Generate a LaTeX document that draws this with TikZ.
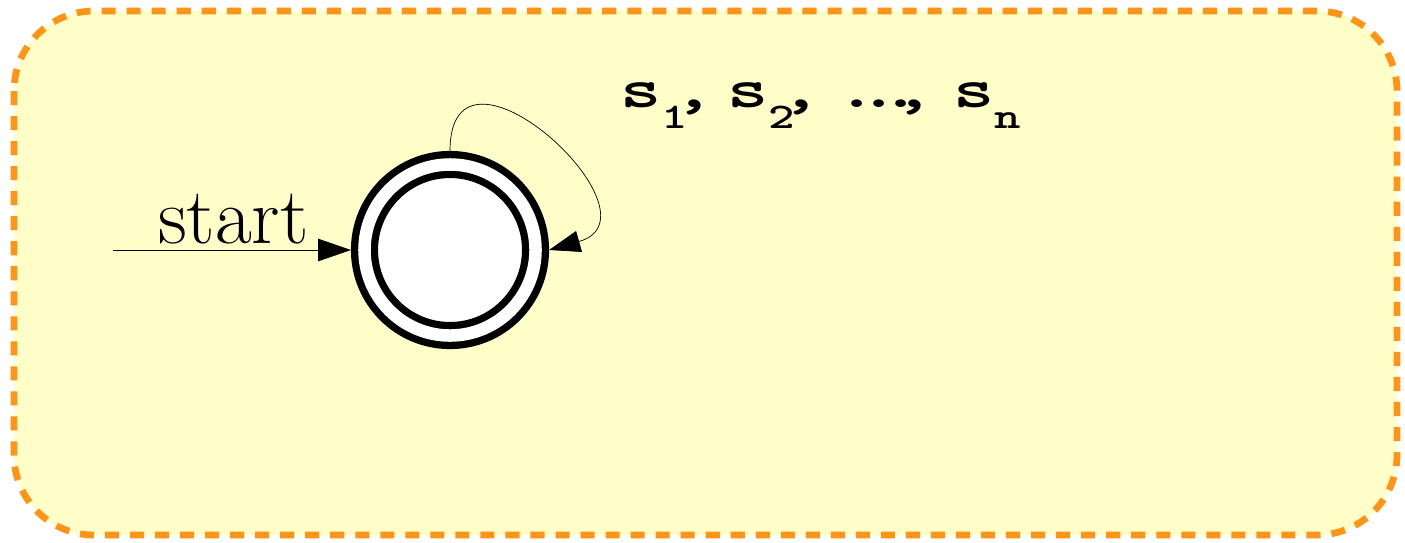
\documentclass[tikz,border=0pt]{standalone}
\usepackage{graphicx}
\usepackage{tikz}
\usetikzlibrary{arrows.meta, positioning}
\definecolor{notepad}{RGB}{255,253,200}
\definecolor{frameorange}{RGB}{255,148,22}
\newcommand{\lowsub}[1]{\raisebox{-0.39em}{\fontsize{25.6}{30}\selectfont #1}}

\begin{document}
\begin{tikzpicture}[
			x=0.025cm, y=-0.025cm,
			frame/.style={draw=frameorange, fill=notepad, line width=4.8pt,
				rounded corners=2cm, dash pattern=on 10pt off 7.8pt},
			state/.style={circle, draw, fill=white, line width=5.2pt, double=white,
				double distance=0.3125cm, minimum size=4.275cm, inner sep=0pt,
				outer sep=0.3375cm},
			arr/.style={-{Triangle[length=0.82cm, width=0.56cm]}, line width=0.6pt},
			looparr/.style={-{Triangle[length=0.78cm, width=0.54cm]}, line width=0.5pt},
			startlbl/.style={font=\fontsize{57}{66}\selectfont, inner sep=0pt},
			symlbl/.style={font=\fontsize{39.8}{48}\selectfont\ttfamily\bfseries, inner sep=0pt},
			]
			\useasboundingbox (0,0) rectangle (1405,542);
			% Background
			\draw[frame] (14,11) rectangle (1397,535);
			
			% State
			\node[state] (q) at (450,250) {};
			
			% Start arrow
			\coordinate (init) at (113,250);
			\node[startlbl, anchor=base east] (startlabel) at (309,243) {start};
			\draw[arr] (init) -- (q);
			
			% Self loop
			\draw[looparr] (q.north) .. controls +(0,-136) and +(120,-34) .. (q.east);
			\node[symlbl, anchor=base west] (syms) at (620,107)
			{\scalebox{1.4}[1]{s\lowsub{1}\kern-0.18em,\kern0.16em s\lowsub{2}\kern-0.18em,\kern0.18em.\kern-0.24em.\kern-0.24em.\kern-0.36em,\kern0.24em s\lowsub{n}}};
		\end{tikzpicture}
\end{document}
